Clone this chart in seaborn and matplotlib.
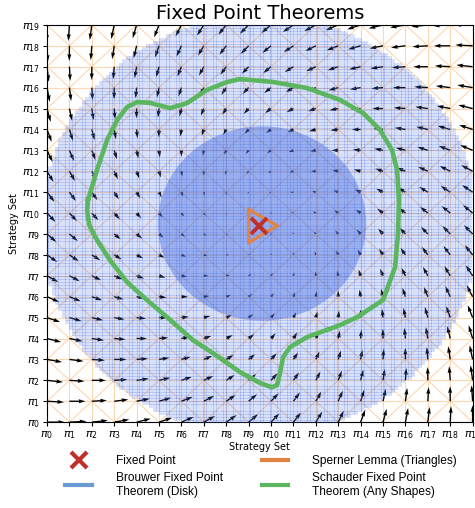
import numpy as np
import seaborn as sns
import matplotlib
matplotlib.use("Agg")
from matplotlib import pyplot as plt
from matplotlib.patches import Circle, Polygon
from matplotlib.lines import Line2D

# strategy grid and tick labels
strategies = list(range(20))
tick_labels = [rf"$\pi_{{{i}}}$" for i in strategies]

# fixed point and the disks around it
fixed_point = (9.45, 9.4)
outer_disk_center = (9.5, 9.4)
outer_disk_half_width = 9.75
outer_disk_half_height = 10.05
inner_disk_center = (9.6, 9.5)
inner_disk_radius = 4.65

# field: rotate the pull towards the fixed point by 45 deg (clockwise)
field_rotation = 45
field_gain = 0.06

# Sperner triangle
sperner_x = [9.0, 9.0, 10.27]
sperner_y = [10.18, 8.58, 9.40]

# Schauder shape (traced outline)
schauder_x = [1.83, 2.23, 2.68, 3.13, 3.57, 4.02, 4.60, 5.49, 6.25, 7.14, 8.04, 8.62,
              10.09, 11.61, 13.08, 14.11, 14.87, 15.40, 15.63, 15.71, 15.67, 15.54,
              15.00, 13.84, 13.08, 11.61, 10.85, 10.54, 10.40, 10.27, 10.04, 9.51,
              8.62, 7.41, 6.52, 5.36, 4.46, 3.57, 2.81, 2.23, 1.88, 1.79, 1.83]
schauder_y = [10.62, 12.06, 13.49, 14.45, 15.07, 15.31, 15.27, 15.02, 15.26, 15.89, 16.27, 16.41,
              16.27, 15.98, 15.41, 14.78, 13.97, 13.01, 12.06, 10.62, 9.04, 7.42,
              5.84, 5.02, 4.64, 4.07, 3.59, 3.11, 2.34, 1.77, 1.67, 1.87,
              2.39, 3.30, 3.92, 5.02, 5.84, 6.70, 7.75, 8.71, 9.43, 10.14, 10.62]

red = "#c0302a"
orange = "#e0843f"
green = "#5bb65f"
blue = "#6a9ad4"
grid_orange = "#fdd7b0"

fig = plt.figure(figsize=(4.75, 5.08), dpi=100)
ax = fig.add_axes([0.099, 0.169, 0.896, 0.782])

# triangulation grid
for s in strategies:
    ax.axhline(s, color=grid_orange, lw=0.8, zorder=1)
    ax.axvline(s, color=grid_orange, lw=0.8, zorder=1)
for c in range(-19, 39, 2):
    ax.plot([0, 19], [c, c - 19], color=grid_orange, lw=0.8, zorder=1)
    ax.plot([0, 19], [-c, 19 - c], color=grid_orange, lw=0.8, zorder=1)

# vector field
X, Y = np.meshgrid(strategies, strategies)
dx = fixed_point[0] - X
dy = fixed_point[1] - Y
th = np.radians(field_rotation)
U = (dx * np.cos(th) + dy * np.sin(th)) * field_gain
V = (-dx * np.sin(th) + dy * np.cos(th)) * field_gain
ax.quiver(X, Y, U, V, angles="xy", scale_units="xy", scale=1,
          color="black", width=0.0032, zorder=2)

# Brouwer disk: fine mesh of points plus the inner disk
mesh = np.arange(0, 19.001, 0.15)
MX, MY = np.meshgrid(mesh, mesh)
inside = (((MX - outer_disk_center[0]) / outer_disk_half_width) ** 2
          + ((MY - outer_disk_center[1]) / outer_disk_half_height) ** 2) <= 1
sns.scatterplot(x=MX[inside], y=MY[inside], marker="s", s=7, color="royalblue",
                alpha=0.2, linewidth=0, zorder=3, ax=ax, legend=False)
ax.add_patch(Circle(inner_disk_center, inner_disk_radius, color="royalblue",
                    alpha=0.42, lw=0, zorder=4))

# Schauder shape
sns.lineplot(x=schauder_x, y=schauder_y, sort=False, color=green, lw=3.3,
             zorder=5, ax=ax, estimator=None)

# Sperner triangle and the fixed point
ax.add_patch(Polygon(np.column_stack([sperner_x, sperner_y]), closed=True, fill=False,
                     edgecolor=orange, lw=2.2, zorder=6))
ax.plot([fixed_point[0]], [fixed_point[1]], marker="x", ms=11, mew=2.8,
        color=red, ls="none", zorder=7)

ax.set_xlim(0, 19)
ax.set_ylim(0, 19)
ax.set_xticks(strategies)
ax.set_xticklabels(tick_labels)
ax.set_yticks(strategies)
ax.set_yticklabels(tick_labels)
ax.tick_params(labelsize=8, length=3, pad=2)
ax.set_xlabel("Strategy Set", fontsize=7, labelpad=1)
ax.set_ylabel("Strategy Set", fontsize=7, labelpad=2)
ax.set_title("Fixed Point Theorems", fontsize=14, pad=4)

handles = [
    Line2D([], [], marker="x", ls="none", color=red, ms=12, mew=3),
    Line2D([], [], color=blue, lw=3),
    Line2D([], [], color=orange, lw=3),
    Line2D([], [], color=green, lw=3),
]
labels = ["Fixed Point", "Brouwer Fixed Point\nTheorem (Disk)",
          "Sperner Lemma (Triangles)", "Schauder Fixed Point\nTheorem (Any Shapes)"]
fig.legend(handles, labels, loc="upper left", bbox_to_anchor=(0.115, 0.126),
           ncol=2, frameon=False, prop={"family": "Liberation Sans", "size": 8.6},
           handlelength=2.2, handletextpad=2.0, columnspacing=3.3, labelspacing=0.45)

fig.savefig("out.png", dpi=100)
